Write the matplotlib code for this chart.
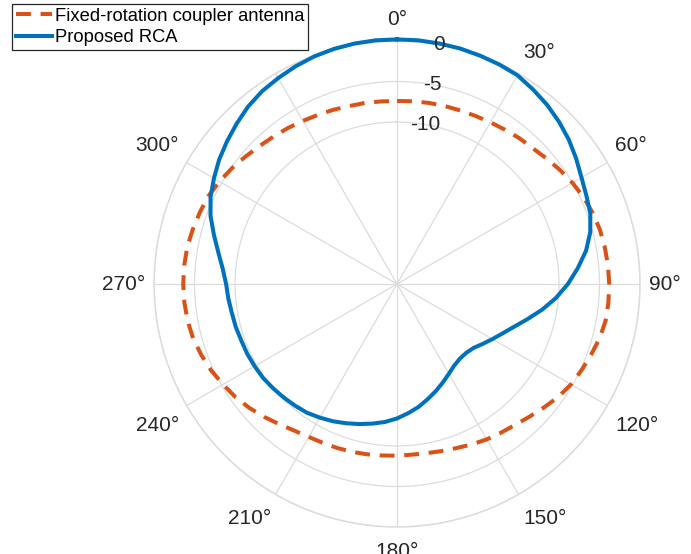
import numpy as np
import matplotlib
matplotlib.use('Agg')
import matplotlib.pyplot as plt

plt.rcParams['font.family'] = ['Liberation Sans', 'DejaVu Sans']

# ------------------------------------------------------------------------------
# Radiation pattern data (normalised gain in dB, 5 deg steps, 0..355 deg)
# ------------------------------------------------------------------------------
angles_deg = np.arange(0, 360, 5)

gain_fixed = [-7.4, -7.35, -7.3, -7.25, -7.2, -7.1, -6.95, -6.75, -6.5, -6.3,
              -5.9, -5.45, -5.0, -4.6, -4.3, -4.07, -3.95, -3.85, -3.8, -3.8,
              -3.85, -4.1, -4.5, -4.85, -5.2, -5.7, -6.3, -6.85, -7.3, -7.6,
              -7.85, -8.15, -8.45, -8.65, -8.8, -8.85, -8.8, -8.75, -8.65, -8.55,
              -8.45, -8.35, -8.2, -7.9, -7.4, -6.8, -6.2, -5.65, -5.2, -4.7,
              -4.3, -3.95, -3.75, -3.65, -3.6, -3.63, -3.7, -3.9, -4.1, -4.3,
              -4.7, -5.1, -5.55, -5.95, -6.25, -6.5, -6.75, -6.95, -7.1, -7.25,
              -7.3, -7.37]

gain_rca = [0.2, 0.2, 0.15, 0.1, 0.0, -0.1, -0.25, -0.7, -1.15, -1.7,
            -2.3, -3.0, -3.7, -4.2, -4.6, -5.3, -6.3, -7.6, -8.9, -10.3,
            -11.8, -13.3, -14.6, -15.6, -16.4, -17.1, -17.7, -17.95, -17.95, -17.7,
            -17.2, -16.6, -15.95, -15.3, -14.6, -14.0, -13.4, -12.9, -12.5, -12.1,
            -11.7, -11.3, -10.95, -10.6, -10.4, -10.2, -10.0, -9.8, -9.7, -9.6,
            -9.55, -9.4, -9.3, -9.1, -8.9, -8.4, -7.6, -6.6, -5.5, -4.6,
            -3.9, -3.2, -2.6, -2.0, -1.4, -0.95, -0.65, -0.35, -0.1, 0.05,
            0.15, 0.2]

labels = ['Fixed-rotation coupler antenna', 'Proposed RCA']

r_min, r_max = -30, 0
r_ticks = [-10, -5, 0]
theta_ticks = np.arange(0, 360, 30)
theta_labels = ['0°', '30°', '60°', '90°', '120°', '150°',
                '180°', '210°', '240°', '270°', '300°', '']

C_FIXED = '#D95319'
C_RCA = '#0072BD'
C_GRID = '#DCDCDC'
C_TEXT = '#262626'
FS = 15
FS_LEG = 13.2


def closed(vals):
    th = np.radians(np.append(angles_deg, angles_deg[0] + 360))
    return th, np.append(vals, vals[0])


fig = plt.figure(figsize=(6.91, 5.54), dpi=100)
ax = fig.add_axes([0.2229, 0.0487, 0.7033, 0.8773], projection='polar')
ax.set_theta_zero_location('N')
ax.set_theta_direction(-1)
ax.set_rlim(r_min, r_max)

th, r = closed(gain_fixed)
ax.plot(th, r, color=C_FIXED, lw=2.9, ls=(0, (3.7, 2.4)),
        label=labels[0], clip_on=False, zorder=3)
th, r = closed(gain_rca)
ax.plot(th, r, color=C_RCA, lw=2.9, label=labels[1], clip_on=False, zorder=4)

# grid: spokes every 30 deg, circles at the radial ticks
ax.set_thetagrids(theta_ticks, [''] * len(theta_ticks))
ax.set_rticks(r_ticks)
ax.set_yticklabels([])
ax.grid(True, color=C_GRID, lw=0.9)
ax.spines['polar'].set_color(C_GRID)
ax.spines['polar'].set_linewidth(1.1)
ax.tick_params(length=0)

# angle labels just outside the outer ring, aligned away from the centre
for a, txt in zip(theta_ticks, theta_labels):
    t = np.radians(a)
    s, c = np.sin(t), np.cos(t)
    ha = 'center' if abs(s) < 0.01 else ('left' if s > 0 else 'right')
    if abs(c) < 0.01:
        va, dy = 'center', 0.0
    elif c > 0:
        va, dy = 'bottom', 0.007
    else:
        va, dy = 'top', -0.013
    ax.text(0.5 + 0.5185 * s, 0.5 + 0.5185 * c + dy, txt,
            transform=ax.transAxes, ha=ha, va=va, fontsize=FS, color=C_TEXT)

# radial labels along the 10 deg direction
for v in r_ticks:
    ax.text(np.radians(10), v, f'{v}', ha='center', va='center',
            fontsize=FS, color=C_TEXT, zorder=5)

leg = fig.legend(loc='upper left', bbox_to_anchor=(12 / 691, 1 - 4 / 554),
                 fontsize=FS_LEG, frameon=True, fancybox=False, framealpha=1,
                 handlelength=2.0, handletextpad=0.16, labelspacing=0.25,
                 borderpad=0.2, borderaxespad=0)
leg.get_frame().set_edgecolor(C_TEXT)
leg.get_frame().set_linewidth(0.9)

fig.savefig('out.png', dpi=100)
